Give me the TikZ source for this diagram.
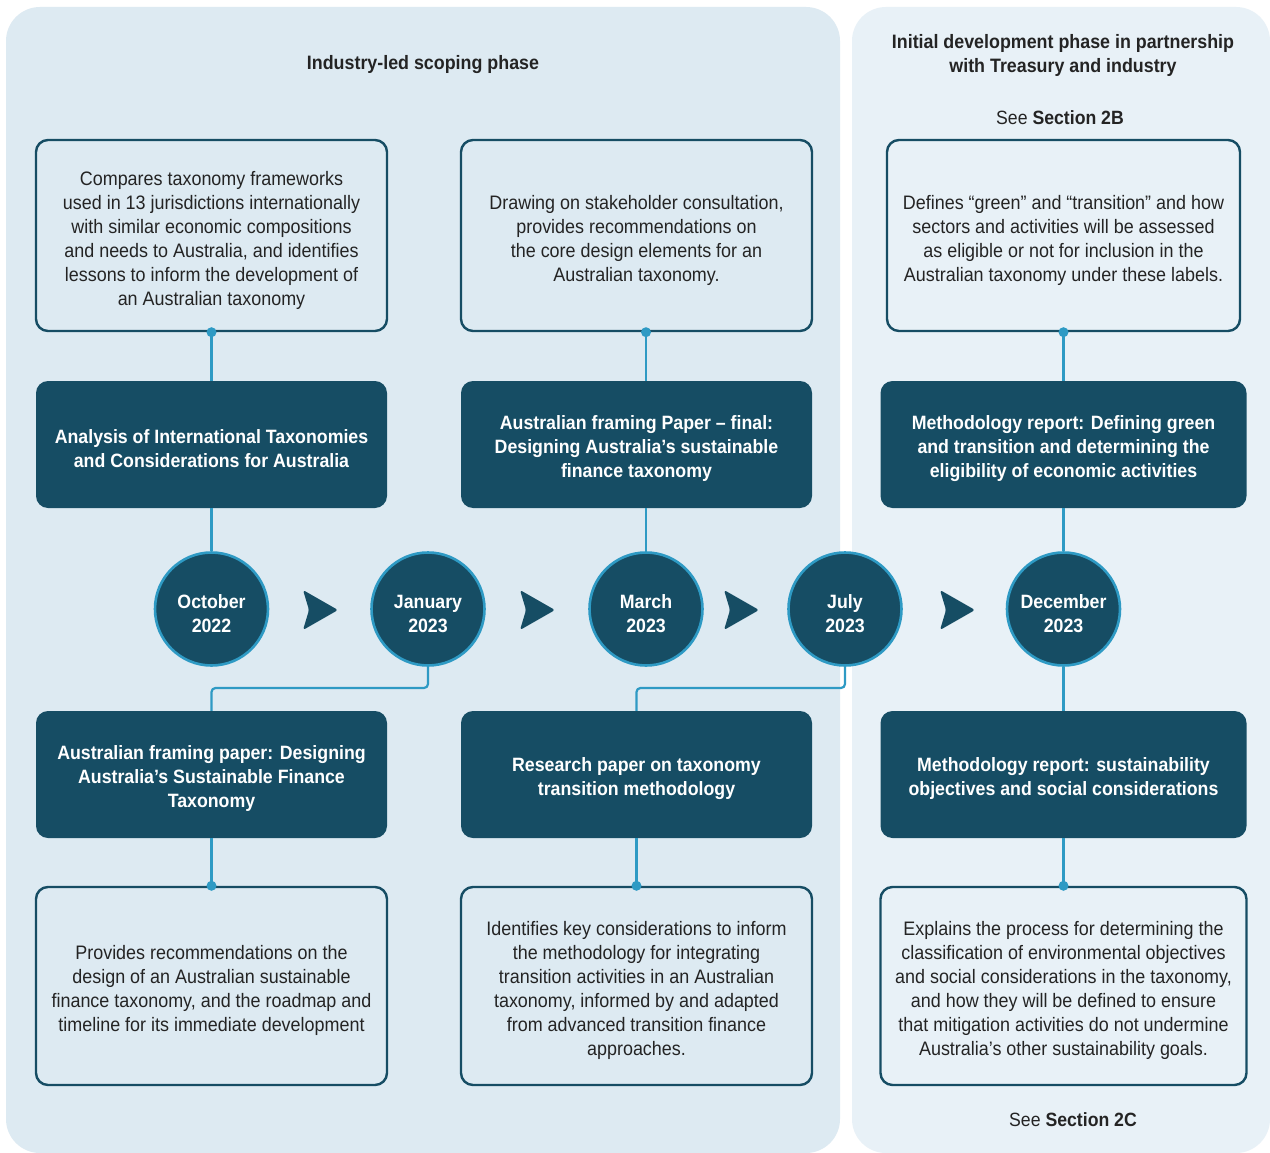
\documentclass[tikz,border=0pt]{standalone}
\usepackage{fontspec}
\setmainfont[FakeStretch=0.92]{Liberation Sans}
\definecolor{panelA}{HTML}{DDEAF2}
\definecolor{panelB}{HTML}{E8F1F7}
\definecolor{dark}{HTML}{164D64}
\definecolor{conn}{HTML}{2E9AC4}
\definecolor{txt}{HTML}{242424}
\begin{document}
\begin{tikzpicture}[x=1pt,y=-1pt,
  panel/.style={rounded corners=34pt},
  infobox/.style={draw=dark, line width=2.4pt, rounded corners=12pt, inner sep=0pt},
  infotext/.style={align=center, text=txt, font=\fontsize{19.5}{24}\selectfont, inner sep=0pt},
  darkbox/.style={fill=dark, rounded corners=12pt, inner sep=0pt},
  darktext/.style={align=center, text=white, font=\fontsize{19.3}{24}\selectfont\bfseries, inner sep=0pt},
  datec/.style={circle, fill=dark, draw=conn, line width=2.6pt, minimum size=113pt, inner sep=0pt},
  title/.style={align=center, text=txt, font=\fontsize{19.4}{24}\selectfont\bfseries},
  see/.style={align=center, text=txt, font=\fontsize{19.2}{24}\selectfont},
  link/.style={draw=conn, line width=2.2pt, rounded corners=4pt},
  chev/.style={fill=dark, rounded corners=2.5pt}
]
\useasboundingbox (0,0) rectangle (1270,1153);
\fill[white] (0,0) rectangle (1270,1153);
% panels
\fill[panelA, panel] (6,7) rectangle (840,1153);
\fill[panelB, panel] (852,7) rectangle (1270,1153);
% titles
\node[title] (tA) at (423,65) {Industry-led scoping phase};
\node[title] (tB) at (1063,55) {Initial development phase in partnership\\with Treasury and industry};
\node[see] (s2b) at (1060,118) {See \textbf{Section 2B}};
\node[see] (s2c) at (1073,1120) {See \textbf{Section 2C}};

% top info boxes
\node[infobox, minimum width=351pt, minimum height=191pt] (t1) at (211.5,235.5) {};
\node[infobox, minimum width=351pt, minimum height=191pt] (t2) at (636.5,235.5) {};
\node[infobox, minimum width=353pt, minimum height=191pt] (t3) at (1063.5,235.5) {};
\node[infotext] (t1x) at ([yshift=-4.5pt]t1.center)
 {Compares taxonomy frameworks\\used in 13 jurisdictions internationally\\with similar economic compositions\\and needs to Australia, and identifies\\lessons to inform the development of\\an Australian taxonomy};
\node[infotext] (t2x) at ([yshift=-4.5pt]t2.center)
 {Drawing on stakeholder consultation,\\provides recommendations on\\the core design elements for an\\Australian taxonomy.};
\node[infotext] (t3x) at ([yshift=-4.5pt]t3.center)
 {Defines “green” and “transition” and how\\sectors and activities will be assessed\\as eligible or not for inclusion in the\\Australian taxonomy under these labels.};

% top dark boxes
\node[darkbox, minimum width=351pt, minimum height=127pt] (d1) at (211.5,444.5) {};
\node[darkbox, minimum width=351pt, minimum height=127pt] (d2) at (636.5,444.5) {};
\node[darkbox, minimum width=366pt, minimum height=127pt] (d3) at (1063.5,444.5) {};
\node[darktext] (d1x) at ([yshift=-4.5pt]d1.center)
 {Analysis of International Taxonomies\\and Considerations for Australia};
\node[darktext] (d2x) at ([yshift=-4.5pt]d2.center)
 {Australian framing Paper – final:\\Designing Australia’s sustainable\\finance taxonomy};
\node[darktext] (d3x) at ([yshift=-4.5pt]d3.center)
 {Methodology report: Defining green\\and transition and determining the\\eligibility of economic activities};

% bottom dark boxes
\node[darkbox, minimum width=351pt, minimum height=127pt] (b1) at (211.5,774.5) {};
\node[darkbox, minimum width=351pt, minimum height=127pt] (b2) at (636.5,774.5) {};
\node[darkbox, minimum width=366pt, minimum height=127pt] (b3) at (1063.5,774.5) {};
\node[darktext] (b1x) at ([yshift=-4.5pt]b1.center)
 {Australian framing paper: Designing\\Australia’s Sustainable Finance\\Taxonomy};
\node[darktext] (b2x) at ([yshift=-4.5pt]b2.center)
 {Research paper on taxonomy\\transition methodology};
\node[darktext] (b3x) at ([yshift=-4.5pt]b3.center)
 {Methodology report: sustainability\\objectives and social considerations};

% bottom info boxes
\node[infobox, minimum width=351pt, minimum height=198pt] (i1) at (211.5,986) {};
\node[infobox, minimum width=351pt, minimum height=198pt] (i2) at (636.5,986) {};
\node[infobox, minimum width=366pt, minimum height=198pt] (i3) at (1063.5,986) {};
\node[infotext] (i1x) at ([yshift=-4.5pt]i1.center)
 {Provides recommendations on the\\design of an Australian sustainable\\finance taxonomy, and the roadmap and\\timeline for its immediate development};
\node[infotext] (i2x) at ([yshift=-4.5pt]i2.center)
 {Identifies key considerations to inform\\the methodology for integrating\\transition activities in an Australian\\taxonomy, informed by and adapted\\from advanced transition finance\\approaches.};
\node[infotext] (i3x) at ([yshift=-4.5pt]i3.center)
 {Explains the process for determining the\\classification of environmental objectives\\and social considerations in the taxonomy,\\and how they will be defined to ensure\\that mitigation activities do not undermine\\Australia’s other sustainability goals.};

% date circles
\node[datec] (c1) at (211.5,609) {};
\node[datec] (c2) at (428,609) {};
\node[datec] (c3) at (646,609) {};
\node[datec] (c4) at (845,609) {};
\node[datec] (c5) at (1063.5,609) {};
\node[darktext] (c1x) at ([yshift=-5pt]c1.center) {October\\2022};
\node[darktext] (c2x) at ([yshift=-5pt]c2.center) {January\\2023};
\node[darktext] (c3x) at ([yshift=-5pt]c3.center) {March\\2023};
\node[darktext] (c4x) at ([yshift=-5pt]c4.center) {July\\2023};
\node[darktext] (c5x) at ([yshift=-5pt]c5.center) {December\\2023};

% connectors
\draw[link] (t1.south) -- (d1.north);
\draw[link] (d1.south) -- (c1.north);
\draw[link] (c3 |- t2.south) -- (c3 |- d2.north);
\draw[link] (c3 |- d2.south) -- (c3.north);
\draw[link] (t3.south) -- (d3.north);
\draw[link] (d3.south) -- (c5.north);
\draw[link] (c2.south) -- (428,688) -- (211.5,688) -- (b1.north);
\draw[link] (c4.south) -- (845,688) -- (636.5,688) -- (b2.north);
\draw[link] (c5.south) -- (b3.north);
\draw[link] (b1.south) -- (i1.north);
\draw[link] (b2.south) -- (i2.north);
\draw[link] (b3.south) -- (i3.north);

% dots
\fill[conn] (t1.south) circle (5pt);
\fill[conn] (c3 |- t2.south) circle (5pt);
\fill[conn] (t3.south) circle (5pt);
\fill[conn] (i1.north) circle (5pt);
\fill[conn] (i2.north) circle (5pt);
\fill[conn] (i3.north) circle (5pt);

% chevrons
\foreach \cx in {320,537,741,957}{
  \fill[chev] (\cx-17,590) -- (\cx+18,610) -- (\cx-17,630) -- (\cx-11,610) -- cycle;
}
\end{tikzpicture}
\end{document}
